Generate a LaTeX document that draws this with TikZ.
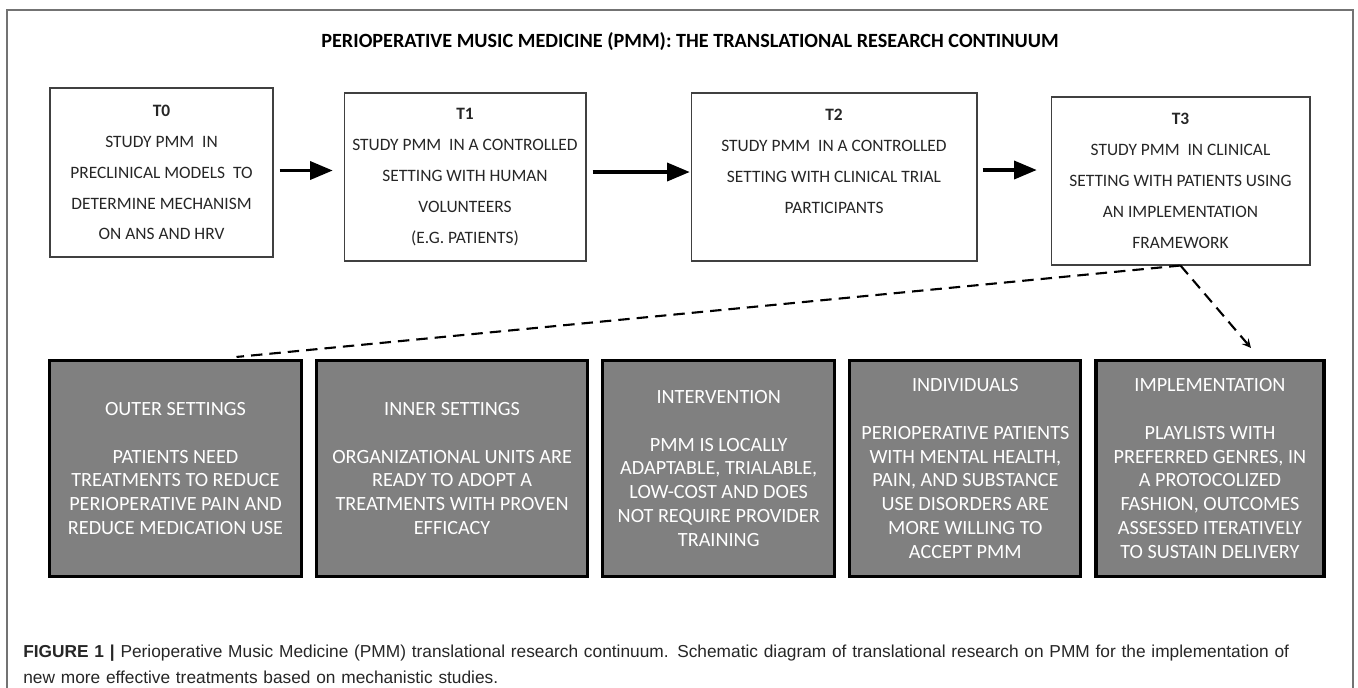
\documentclass[tikz,border=0pt]{standalone}
\usepackage{fontspec}
\setmainfont{Carlito}
\newfontfamily\capfont{Liberation Sans}
\usepackage{tikz}
\usetikzlibrary{arrows}
\usetikzlibrary{positioning}
\usetikzlibrary{calc}

\begin{document}
\begin{tikzpicture}[
    x=0.02cm, y=-0.02cm,
    node distance = 0.24cm,
    tbox/.style={draw=black!75, line width=0.6pt, align=center, text=black!85,
      inner sep=0pt, font=\fontsize{9.9}{17.6}\selectfont},
    cbox/.style={draw=black, line width=1.8pt, fill=black!50, text=white,
      align=center, inner sep=0pt, minimum height=4.32cm,
      font=\fontsize{11.5}{13.6}\selectfont},
    flow/.style={-triangle 45, line width=2pt},
    dashline/.style={dash pattern=on 6.5pt off 4pt, line width=1.2pt}]
    \useasboundingbox (0,0) rectangle (1358,687);
    \draw[black!55, line width=0.8pt] (7,690) -- (7,10) -- (1353,10) -- (1353,690);
    \node (title) at (690,42) {\fontsize{11.5}{13}\selectfont\bfseries
      PERIOPERATIVE MUSIC MEDICINE (PMM): THE TRANSLATIONAL RESEARCH CONTINUUM};
    \node[tbox, minimum width=4.46cm, minimum height=3.38cm] (T0) at (161.5,172.5)
      {\textbf{T0}\\ STUDY PMM\ \ IN\\ PRECLINICAL MODELS\ \ TO\\ DETERMINE MECHANISM\\ ON ANS AND HRV};
    \node[tbox, minimum width=4.84cm, minimum height=3.36cm] (T1) at (465,177)
      {\textbf{T1}\\ STUDY PMM\ \ IN A CONTROLLED\\ SETTING WITH HUMAN\\ VOLUNTEERS\\ (E.G. PATIENTS)};
    \node[tbox, minimum width=5.72cm, minimum height=3.36cm] (T2) at (834,177)
      {\textbf{T2}\\ STUDY PMM\ \ IN A CONTROLLED\\ SETTING WITH CLINICAL TRIAL\\ PARTICIPANTS\\ \mbox{}};
    \node[tbox, minimum width=5.18cm, minimum height=3.36cm] (T3) at (1180.5,181)
      {\textbf{T3}\\ STUDY PMM\ \ IN CLINICAL\\ SETTING WITH PATIENTS USING\\ AN IMPLEMENTATION\\ FRAMEWORK};
    \node[cbox, minimum width=5.04cm] (outer) at (175.5,468.5)
      {OUTER SETTINGS\\[13.6pt] PATIENTS NEED\\ TREATMENTS TO REDUCE\\ PERIOPERATIVE PAIN AND\\ REDUCE MEDICATION USE};
    \node[cbox, minimum width=5.42cm, right=of outer] (inner)
      {INNER SETTINGS\\[13.6pt] ORGANIZATIONAL UNITS ARE\\ READY TO ADOPT A\\ TREATMENTS WITH PROVEN\\ EFFICACY};
    \node[cbox, minimum width=4.64cm, right=of inner] (interv)
      {INTERVENTION\\[13.6pt] PMM IS LOCALLY\\ ADAPTABLE, TRIALABLE,\\ LOW-COST AND DOES\\ NOT REQUIRE PROVIDER\\ TRAINING};
    \node[cbox, minimum width=4.62cm, right=of interv] (indiv)
      {INDIVIDUALS\\[13.6pt] PERIOPERATIVE PATIENTS\\ WITH MENTAL HEALTH,\\ PAIN, AND SUBSTANCE\\ USE DISORDERS ARE\\ MORE WILLING TO\\ ACCEPT PMM};
    \node[cbox, minimum width=4.56cm, right=of indiv] (impl)
      {IMPLEMENTATION\\[13.6pt] PLAYLISTS WITH\\ PREFERRED GENRES, IN\\ A PROTOCOLIZED\\ FASHION, OUTCOMES\\ ASSESSED ITERATIVELY\\ TO SUSTAIN DELIVERY};
    \draw[flow] ($(T0.east)+(6,-2)$) -- ($(T0.east -| T1.west)+(-11,-2)$);
    \draw[flow] ($(T1.east)+(6,-5)$) -- ($(T1.east -| T2.west)+(-1,-5)$);
    \draw[flow] ($(T2.east)+(5,-7)$) -- ($(T2.east -| T3.west)+(-14,-7)$);
    \draw[dashline] (T3.south) -- ($(outer.north)+(61,-2)$);
    \draw[dashline, -stealth] (T3.south) -- ($(impl.north)+(41,-11)$);
    \node[anchor=north west, text width=745pt, align=left, inner sep=0pt,
      font=\capfont\fontsize{9.85}{14.4}\selectfont, text=black!85] (caption) at (23,645)
      {\textbf{FIGURE 1 |} Perioperative Music Medicine (PMM) translational research continuum. Schematic diagram of translational research on PMM for the implementation of\\ new more effective treatments based on mechanistic studies.};
\end{tikzpicture}
\end{document}
